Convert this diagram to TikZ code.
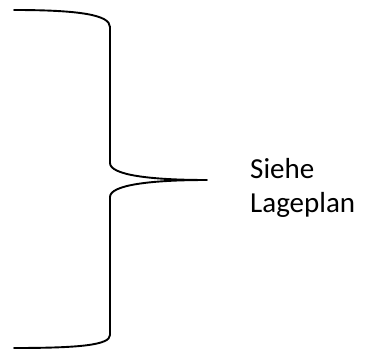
\documentclass[tikz,border=0pt]{standalone}
\usepackage{fontspec}
\setmainfont{Carlito}
\begin{document}
\begin{tikzpicture}[x=1pt,y=-1pt,
  brace/.style={line width=1.9pt, line cap=round, line join=round},
  label/.style={anchor=base west, inner sep=0pt, font=\fontsize{29}{34}\selectfont}]
  \useasboundingbox[fill=white] (0,0) rectangle (366,350);
  % hand-drawn curly brace
  \coordinate (top) at (14,10);
  \coordinate (tip) at (207,180);
  \coordinate (bot) at (14,348);
  \draw[brace] (top) .. controls (80,10) and (110,15) .. (110,27)
    -- (110,163) .. controls (110,175) and (150,180) .. (tip)
    .. controls (150,180) and (110,185) .. (110,197)
    -- (110,335) .. controls (110,345) and (80,348) .. (bot);
  \node[label] (line1) at (250,178) {Siehe};
  \node[label] (line2) at (250,212) {Lageplan};
\end{tikzpicture}
\end{document}
